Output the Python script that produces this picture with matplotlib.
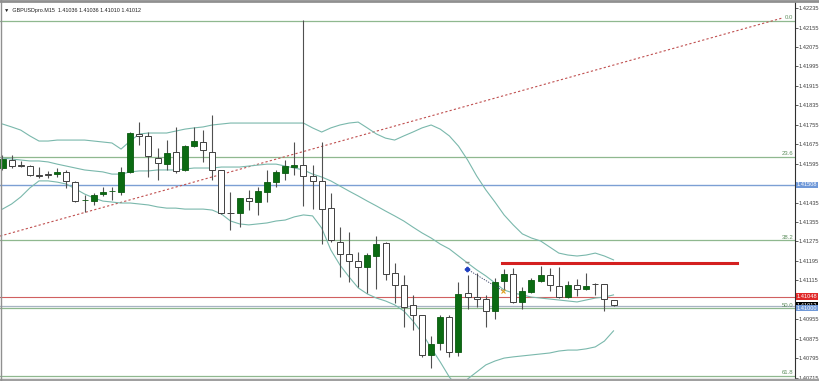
import matplotlib
matplotlib.use("Agg")
import matplotlib.pyplot as plt
import matplotlib.transforms as mtransforms
import numpy as np

plt.rcParams['font.family'] = ['Liberation Sans', 'DejaVu Sans']

# GBPUSDpro M15 candles (open / high / low / close)
opens = [1.41577, 1.41610, 1.41589, 1.41585, 1.41548, 1.41552, 1.41552, 1.41561, 1.41519, 1.41445,
         1.41441, 1.41470, 1.41482, 1.41478, 1.41561, 1.41717, 1.41709, 1.41618, 1.41593, 1.41643,
         1.41569, 1.41667, 1.41684, 1.41643, 1.41569, 1.41392, 1.41392, 1.41454, 1.41437, 1.41478,
         1.41519, 1.41556, 1.41581, 1.41589, 1.41544, 1.41524, 1.41412, 1.41273, 1.41223, 1.41195,
         1.41170, 1.41215, 1.41269, 1.41145, 1.41096, 1.41014, 1.40972, 1.40808, 1.40857, 1.40964,
         1.40820, 1.41063, 1.41046, 1.41038, 1.40989, 1.41112, 1.41141, 1.41026, 1.41067, 1.41112,
         1.41137, 1.41092, 1.41046, 1.41096, 1.41079, 1.41100, 1.41100, 1.41036]
highs = [1.41630, 1.41630, 1.41606, 1.41589, 1.41581, 1.41565, 1.41577, 1.41569, 1.41524, 1.41466,
         1.41474, 1.41499, 1.41499, 1.41581, 1.41725, 1.41766, 1.41725, 1.41659, 1.41692, 1.41746,
         1.41672, 1.41746, 1.41733, 1.41795, 1.41569, 1.41478, 1.41454, 1.41487, 1.41499, 1.41569,
         1.41569, 1.41610, 1.41684, 1.42186, 1.41589, 1.41684, 1.41474, 1.41334, 1.41314, 1.41231,
         1.41227, 1.41297, 1.41273, 1.41186, 1.41137, 1.41055, 1.40972, 1.40886, 1.40972, 1.40972,
         1.41108, 1.41137, 1.41145, 1.41055, 1.41125, 1.41162, 1.41166, 1.41088, 1.41125, 1.41174,
         1.41166, 1.41170, 1.41112, 1.41120, 1.41145, 1.41104, 1.41100, 1.41036]
lows = [1.41569, 1.41577, 1.41581, 1.41544, 1.41536, 1.41536, 1.41540, 1.41495, 1.41437, 1.41396,
        1.41425, 1.41462, 1.41445, 1.41466, 1.41556, 1.41672, 1.41540, 1.41528, 1.41569, 1.41556,
        1.41565, 1.41663, 1.41602, 1.41528, 1.41388, 1.41322, 1.41334, 1.41404, 1.41384, 1.41437,
        1.41499, 1.41528, 1.41548, 1.41421, 1.41408, 1.41264, 1.41273, 1.41129, 1.41108, 1.41088,
        1.41063, 1.41079, 1.41116, 1.41022, 1.40923, 1.40911, 1.40800, 1.40754, 1.40828, 1.40800,
        1.40804, 1.40997, 1.41005, 1.40923, 1.40956, 1.41075, 1.41022, 1.40997, 1.41063, 1.41108,
        1.41071, 1.41042, 1.41042, 1.41051, 1.41075, 1.41055, 1.40989, 1.41010]
closes = [1.41614, 1.41585, 1.41587, 1.41548, 1.41546, 1.41550, 1.41561, 1.41524, 1.41441, 1.41447,
          1.41466, 1.41478, 1.41484, 1.41561, 1.41721, 1.41709, 1.41626, 1.41598, 1.41639, 1.41565,
          1.41667, 1.41688, 1.41651, 1.41569, 1.41392, 1.41390, 1.41454, 1.41441, 1.41482, 1.41519,
          1.41561, 1.41585, 1.41589, 1.41544, 1.41524, 1.41408, 1.41281, 1.41223, 1.41195, 1.41170,
          1.41219, 1.41264, 1.41141, 1.41096, 1.41005, 1.40972, 1.40808, 1.40853, 1.40964, 1.40820,
          1.41059, 1.41046, 1.41038, 1.40989, 1.41108, 1.41141, 1.41026, 1.41071, 1.41116, 1.41137,
          1.41096, 1.41046, 1.41096, 1.41079, 1.41092, 1.41098, 1.41038, 1.41012]

# bands
band_upper = [1.41758, 1.41746, 1.41733, 1.41709, 1.41688, 1.41688, 1.41692, 1.41692, 1.41692, 1.41692,
              1.41688, 1.41684, 1.41680, 1.41655, 1.41688, 1.41717, 1.41721, 1.41721, 1.41721, 1.41729,
              1.41737, 1.41742, 1.41746, 1.41754, 1.41758, 1.41762, 1.41762, 1.41762, 1.41762, 1.41762,
              1.41762, 1.41762, 1.41762, 1.41762, 1.41742, 1.41725, 1.41742, 1.41754, 1.41762, 1.41766,
              1.41742, 1.41717, 1.41700, 1.41692, 1.41709, 1.41725, 1.41742, 1.41754, 1.41737, 1.41709,
              1.41667, 1.41610, 1.41544, 1.41487, 1.41437, 1.41384, 1.41343, 1.41306, 1.41289, 1.41277,
              1.41252, 1.41227, 1.41219, 1.41215, 1.41219, 1.41227, 1.41215, 1.41199]
band_middle = [1.41618, 1.41614, 1.41610, 1.41606, 1.41606, 1.41602, 1.41593, 1.41585, 1.41577, 1.41569,
               1.41565, 1.41561, 1.41552, 1.41552, 1.41561, 1.41565, 1.41565, 1.41569, 1.41569, 1.41569,
               1.41573, 1.41577, 1.41577, 1.41577, 1.41581, 1.41581, 1.41581, 1.41585, 1.41589, 1.41593,
               1.41593, 1.41585, 1.41577, 1.41569, 1.41552, 1.41540, 1.41524, 1.41503, 1.41482, 1.41462,
               1.41441, 1.41421, 1.41400, 1.41380, 1.41359, 1.41334, 1.41310, 1.41289, 1.41264, 1.41244,
               1.41215, 1.41186, 1.41158, 1.41133, 1.41104, 1.41075, 1.41063, 1.41055, 1.41046, 1.41042,
               1.41038, 1.41034, 1.41030, 1.41026, 1.41034, 1.41042, 1.41046, 1.41055]
band_lower = [1.41408, 1.41429, 1.41458, 1.41495, 1.41524, 1.41524, 1.41519, 1.41511, 1.41491, 1.41470,
              1.41454, 1.41441, 1.41437, 1.41433, 1.41433, 1.41429, 1.41425, 1.41417, 1.41412, 1.41412,
              1.41408, 1.41408, 1.41408, 1.41404, 1.41388, 1.41359, 1.41347, 1.41343, 1.41347, 1.41351,
              1.41359, 1.41363, 1.41376, 1.41384, 1.41380, 1.41330, 1.41240, 1.41178, 1.41129, 1.41084,
              1.41059, 1.41042, 1.41030, 1.41014, 1.40989, 1.40948, 1.40898, 1.40837, 1.40779, 1.40717,
              1.40672, 1.40709, 1.40738, 1.40767, 1.40783, 1.40795, 1.40800, 1.40804, 1.40808, 1.40812,
              1.40816, 1.40824, 1.40828, 1.40828, 1.40833, 1.40841, 1.40865, 1.40907]

fibo_levels = ['0.0', '23.6', '38.2', '50.0', '61.8']
fibo_prices = [1.42182, 1.41624, 1.41279, 1.41000, 1.40721]

blue_level = 1.41508
red_level = 1.41048
bid_price = 1.41012
ask_level = 1.41000
resistance = 1.41186
resistance_span = [54.8, 80.5]
trend_pts = [(-0.27, 1.41297), (85.5, 1.42194)]
trade_pts = [(50.9, 1.41162), (54.9, 1.41071)]

tick_prices = [1.42235 - 0.0008 * n for n in range(20)]

fig = plt.figure(figsize=(8.2, 3.81), dpi=100)
ax = fig.add_axes([0, 2 / 381, 795 / 820, 377 / 381])
ax.set_xlim(-0.274, 86.9)
ax.set_ylim(1.40709, 1.42260)

x = np.arange(len(opens))
o = np.array(opens)
c = np.array(closes)
up = c >= o

# bands
band_col = '#7ab8ac'
ax.plot(x, band_upper, color=band_col, lw=0.8, zorder=2)
ax.plot(x, band_middle, color=band_col, lw=0.8, zorder=2)
ax.plot(x, band_lower, color=band_col, lw=0.8, zorder=2)

# horizontal levels
for lab, p in zip(fibo_levels, fibo_prices):
    ax.axhline(p, color='#8fb88f', lw=0.9, zorder=1)
    ax.text(86.7, p + 0.00003, lab, color='#5f8f5f', fontsize=4.3, ha='right', va='bottom')
ax.axhline(blue_level, color='#7c9fd4', lw=1.0, zorder=1)
ax.axhline(red_level, color='#d06060', lw=0.8, zorder=1)
ax.axhline(ask_level + 0.00008, color='#a8b4c4', lw=0.9, zorder=1)

# trend line and resistance
ax.plot([p[0] for p in trend_pts], [p[1] for p in trend_pts], color='#c05050', lw=0.8,
        ls=(0, (2, 2)), zorder=1)
ax.plot(resistance_span, [resistance, resistance], color='#d42020', lw=2.2, zorder=3)

# candles
wick_col = '#505050'
ax.vlines(x, lows, highs, color=wick_col, lw=0.8, zorder=3)
ax.bar(x[up], (c - o)[up], bottom=o[up], width=0.66, color='#0b6b12',
       edgecolor='#0b5a10', lw=0.6, zorder=4)
ax.bar(x[~up], (o - c)[~up], bottom=c[~up], width=0.66, color='white',
       edgecolor='#404040', lw=0.7, zorder=4)

# trade history mark
ax.plot([p[0] for p in trade_pts], [p[1] for p in trade_pts], color='#303a60', lw=0.6,
        ls=(0, (1.5, 1.5)), zorder=5)
ax.plot(*trade_pts[0], marker='P', color='#2040c0', ms=3, zorder=6)
ax.plot(*trade_pts[1], marker='x', color='#e0a020', ms=3, mew=0.8, zorder=6)
ax.plot(trade_pts[0][0], trade_pts[0][1] + 0.00028, marker='_', color='#808080', ms=3, zorder=6)

# right price axis
ax.yaxis.tick_right()
ax.set_yticks([t for i, t in enumerate(tick_prices) if i not in (9, 15)])
ax.set_yticklabels(['%.5f' % t for i, t in enumerate(tick_prices) if i not in (9, 15)])
ax.tick_params(axis='y', labelsize=4.1, colors='#404040', length=2, width=0.6, pad=0.8)
ax.set_xticks([])
for s in ['top', 'left', 'bottom']:
    ax.spines[s].set_visible(False)
ax.spines['right'].set_color('#303030')
ax.spines['right'].set_linewidth(0.8)

trans = mtransforms.blended_transform_factory(ax.transAxes, ax.transData)
for p, bg in [(bid_price, 'black'), (red_level, '#e02828'), (ask_level, '#6f98d8'), (blue_level, '#6f98d8')]:
    ax.text(1.0025, p, '%.5f' % p, transform=trans, fontsize=4.1, color='white', va='center', ha='left',
            bbox=dict(boxstyle='square,pad=0.12', fc=bg, ec='none'), clip_on=False, zorder=10)

# header
ax.text(0.005, 0.985, '\u25bc  ' + 'GBPUSDpro.M15  1.41036 1.41036 1.41010 1.41012',
        transform=ax.transAxes, fontsize=3.9, color='#202020', va='top', ha='left')

# window frame
fig.add_artist(plt.Line2D([0, 1], [0.998, 0.998], transform=fig.transFigure, color='#909090', lw=2))
fig.add_artist(plt.Line2D([0, 1], [0.003, 0.003], transform=fig.transFigure, color='#a0a0a0', lw=2.5))
fig.add_artist(plt.Line2D([0.0008, 0.0008], [0, 1], transform=fig.transFigure, color='#909090', lw=1))

fig.savefig('out.png', dpi=100)
